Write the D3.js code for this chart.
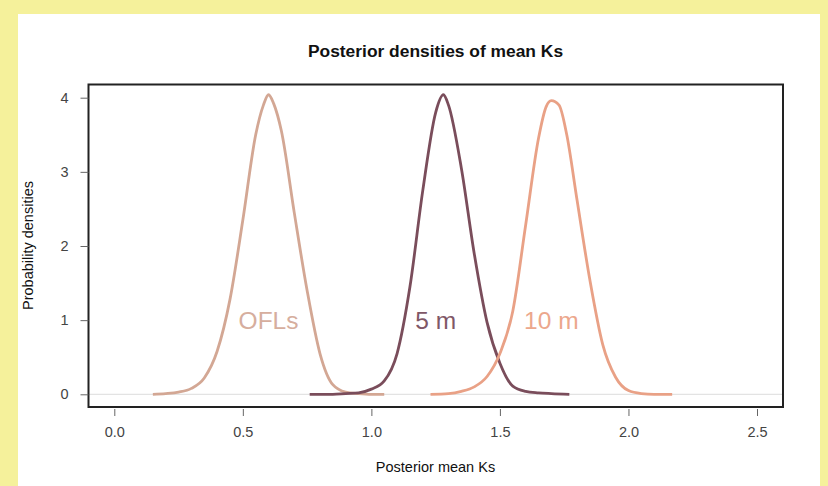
<!DOCTYPE html>
<html>
<head>
<meta charset="utf-8">
<script src="https://cdn.jsdelivr.net/npm/d3@7"></script>
<style>
  html, body { margin: 0; padding: 0; background: #f5f19b; }
  svg { display: block; }
</style>
</head>
<body>
<svg id="chart" width="828" height="486"></svg>
<script>
// valeurs
const ofls_x = [0.15, 0.20, 0.25, 0.30, 0.35, 0.40, 0.45, 0.50, 0.55, 0.58, 0.60, 0.62, 0.65, 0.70, 0.75, 0.80, 0.85, 0.90, 0.95, 1.00, 1.05];
const ofls_y = [0.00, 0.01, 0.03, 0.08, 0.22, 0.58, 1.28, 2.35, 3.50, 3.90, 4.04, 3.92, 3.55, 2.45, 1.40, 0.55, 0.13, 0.03, 0.01, 0.00, 0.00];

const m5_x = [0.76, 0.85, 0.90, 0.95, 1.00, 1.05, 1.10, 1.15, 1.20, 1.25, 1.28, 1.30, 1.35, 1.40, 1.45, 1.50, 1.55, 1.60, 1.65, 1.70, 1.77];
const m5_y = [0.00, 0.00, 0.01, 0.02, 0.07, 0.18, 0.55, 1.45, 2.75, 3.80, 4.04, 3.90, 3.05, 1.90, 0.97, 0.42, 0.11, 0.04, 0.02, 0.01, 0.00];

const m10_x = [1.23, 1.30, 1.35, 1.40, 1.45, 1.50, 1.55, 1.60, 1.65, 1.68, 1.70, 1.73, 1.76, 1.80, 1.85, 1.90, 1.95, 2.00, 2.05, 2.10, 2.17];
const m10_y = [0.00, 0.01, 0.04, 0.10, 0.24, 0.55, 1.12, 2.28, 3.45, 3.88, 3.96, 3.90, 3.50, 2.62, 1.54, 0.67, 0.23, 0.05, 0.01, 0.00, 0.00];

const series_names = ["OFLs", "5 m", "10 m"];
const label_x = [0.6, 1.25, 1.7];
const label_y = [1, 1, 1];

const x_ticks = [0, 0.5, 1, 1.5, 2, 2.5];
const y_ticks = [0, 1, 2, 3, 4];

const colors = ["#d3a794", "#7a4d5b", "#e9a186"];
const label_colors = ["#d6ae9e", "#805767", "#eca78c"];

const svg = d3.select("#chart");

// panneau blanc
svg.append("rect")
  .attr("x", 18).attr("y", 14)
  .attr("width", 802).attr("height", 472)
  .attr("fill", "white");

const x = d3.scaleLinear().domain([0, 2.5]).range([114.3, 757]);
const y = d3.scaleLinear().domain([0, 4]).range([394.3, 97.7]);

const boxL = 88.5, boxR = 783, boxT = 84.5, boxB = 407;

// ligne h=0
svg.append("line")
  .attr("x1", boxL).attr("x2", boxR)
  .attr("y1", y(0)).attr("y2", y(0))
  .attr("stroke", "#dddddd")
  .attr("stroke-width", 1);

const series = [
  ofls_x.map((d, i) => [d, ofls_y[i]]),
  m5_x.map((d, i) => [d, m5_y[i]]),
  m10_x.map((d, i) => [d, m10_y[i]])
];

const line = d3.line()
  .x(d => x(d[0]))
  .y(d => y(d[1]))
  .curve(d3.curveMonotoneX);

svg.selectAll("path.dens")
  .data(series)
  .enter()
  .append("path")
  .attr("class", "dens")
  .attr("d", line)
  .attr("fill", "none")
  .attr("stroke", (d, i) => colors[i])
  .attr("stroke-width", 2.8)
  .attr("stroke-linejoin", "round");

svg.selectAll("text.lab")
  .data(series_names)
  .enter()
  .append("text")
  .attr("class", "lab")
  .attr("x", (d, i) => x(label_x[i]))
  .attr("y", (d, i) => y(label_y[i]))
  .attr("dy", "0.35em")
  .attr("text-anchor", "middle")
  .attr("font-family", "Liberation Sans, Arial, sans-serif")
  .attr("font-size", 24.5)
  .attr("fill", (d, i) => label_colors[i])
  .text(d => d);

// cadre
svg.append("rect")
  .attr("x", boxL).attr("y", boxT)
  .attr("width", boxR - boxL).attr("height", boxB - boxT)
  .attr("fill", "none")
  .attr("stroke", "#222")
  .attr("stroke-width", 2);

// axe x
const xAxis = d3.axisBottom(x)
  .tickValues(x_ticks)
  .tickSize(7)
  .tickPadding(11)
  .tickFormat(d3.format(".1f"));

const gx = svg.append("g")
  .attr("transform", `translate(0,${boxB + 2})`)
  .call(xAxis);
gx.select(".domain").remove();
gx.selectAll("line").attr("stroke", "#666");
gx.selectAll("text")
  .attr("font-family", "Liberation Sans, Arial, sans-serif")
  .attr("font-size", 14.5)
  .attr("fill", "#444");

// axe y
const yAxis = d3.axisLeft(y)
  .tickValues(y_ticks)
  .tickSize(8)
  .tickPadding(12)
  .tickFormat(d3.format("d"));

const gy = svg.append("g")
  .attr("transform", `translate(${boxL},0)`)
  .call(yAxis);
gy.select(".domain").remove();
gy.selectAll("line").attr("stroke", "#666");
gy.selectAll("text")
  .attr("font-family", "Liberation Sans, Arial, sans-serif")
  .attr("font-size", 14.5)
  .attr("fill", "#444");

// titres
svg.append("text")
  .attr("x", 435.5).attr("y", 56.5)
  .attr("text-anchor", "middle")
  .attr("font-family", "Liberation Sans, Arial, sans-serif")
  .attr("font-size", 17.4)
  .attr("font-weight", "bold")
  .attr("fill", "#111")
  .text("Posterior densities of mean Ks");

svg.append("text")
  .attr("x", 435.5).attr("y", 472)
  .attr("text-anchor", "middle")
  .attr("font-family", "Liberation Sans, Arial, sans-serif")
  .attr("font-size", 14.5)
  .attr("fill", "#111")
  .text("Posterior mean Ks");

svg.append("text")
  .attr("transform", `translate(33,245.5) rotate(-90)`)
  .attr("text-anchor", "middle")
  .attr("font-family", "Liberation Sans, Arial, sans-serif")
  .attr("font-size", 14.5)
  .attr("fill", "#111")
  .text("Probability densities");
</script>
</body>
</html>
